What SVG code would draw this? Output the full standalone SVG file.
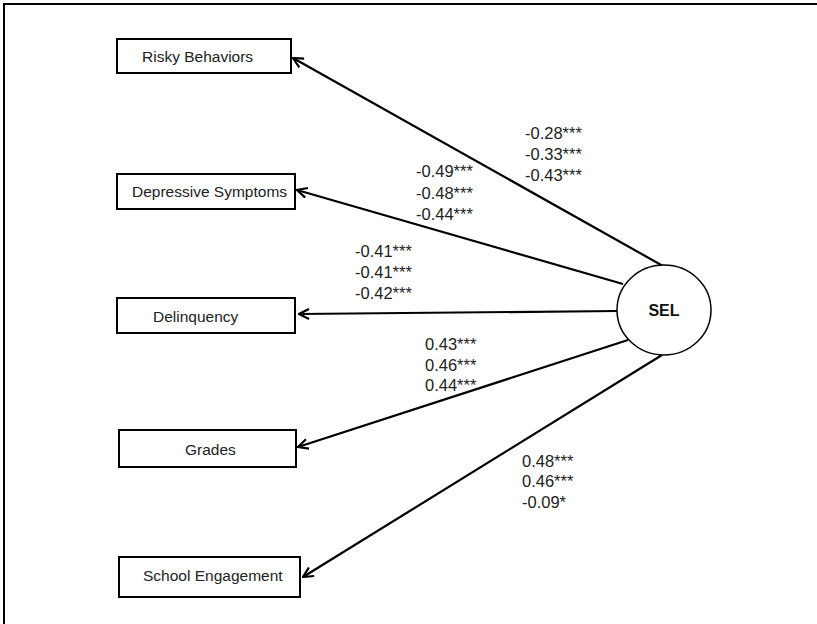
<svg xmlns="http://www.w3.org/2000/svg" width="817" height="624" viewBox="0 0 817 624">
<defs>
<style>
.box{fill:#fff;stroke:#000;stroke-width:2}
.bt{font-family:"Liberation Sans",Arial,sans-serif;font-size:15.5px;fill:#222}
.lbl{font-family:"Liberation Sans",Arial,sans-serif;font-size:16.5px;fill:#222}
.edge{stroke:#000;stroke-width:2.2;fill:none;marker-end:url(#ah)}
</style>
<marker id="ah" viewBox="0 0 12 12" refX="11" refY="6" markerWidth="12" markerHeight="12" markerUnits="userSpaceOnUse" orient="auto">
<path d="M1,1 L11,6 L1,11" fill="none" stroke="#000" stroke-width="2.2"/>
</marker>
</defs>
<rect width="817" height="624" fill="#fff"/>
<path d="M4,624 L4,4 L817,4" fill="none" stroke="#000" stroke-width="2"/>
<g id="connectors">
<line class="edge" x1="663" y1="266" x2="293" y2="58"/>
<line class="edge" x1="623" y1="284" x2="297" y2="190"/>
<line class="edge" x1="617" y1="311" x2="299" y2="314"/>
<line class="edge" x1="628" y1="340" x2="298" y2="447"/>
<line class="edge" x1="662" y1="355" x2="303" y2="577"/>
<text class="lbl" x="525" y="139">-0.28***</text>
<text class="lbl" x="525" y="160">-0.33***</text>
<text class="lbl" x="525" y="181">-0.43***</text>
<text class="lbl" x="416" y="177">-0.49***</text>
<text class="lbl" x="416" y="199">-0.48***</text>
<text class="lbl" x="416" y="220">-0.44***</text>
<text class="lbl" x="355" y="257">-0.41***</text>
<text class="lbl" x="355" y="278">-0.41***</text>
<text class="lbl" x="355" y="299">-0.42***</text>
<text class="lbl" x="425" y="350">0.43***</text>
<text class="lbl" x="425" y="371">0.46***</text>
<text class="lbl" x="425" y="391">0.44***</text>
<text class="lbl" x="522" y="467">0.48***</text>
<text class="lbl" x="522" y="487">0.46***</text>
<text class="lbl" x="522" y="508">-0.09*</text>
</g>
<g id="risky">
<rect class="box" x="117" y="39" width="174" height="34"/>
<text class="bt" x="142" y="62">Risky Behaviors</text>
</g>
<g id="depressive">
<rect class="box" x="117" y="174" width="178" height="35"/>
<text class="bt" x="132" y="197">Depressive Symptoms</text>
</g>
<g id="delinquency">
<rect class="box" x="117" y="298" width="178" height="35"/>
<text class="bt" x="153" y="322">Delinquency</text>
</g>
<g id="grades">
<rect class="box" x="119" y="430" width="177" height="37"/>
<text class="bt" x="185" y="455">Grades</text>
</g>
<g id="school">
<rect class="box" x="119" y="557" width="181" height="40"/>
<text class="bt" x="143" y="581">School Engagement</text>
</g>
<g id="sel">
<ellipse cx="664" cy="310" rx="47" ry="45" fill="#fff" stroke="#000" stroke-width="1.5"/>
<text x="664" y="316" text-anchor="middle" font-family="'Liberation Sans',Arial,sans-serif" font-size="16px" font-weight="bold" fill="#111">SEL</text>
</g>
</svg>
